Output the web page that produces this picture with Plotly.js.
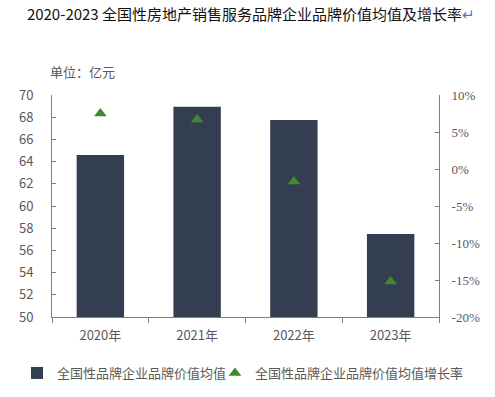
<!DOCTYPE html>
<html>
<head>
<meta charset="utf-8">
<script src="https://cdn.plot.ly/plotly-3.0.1.min.js"></script>
<style>html,body{margin:0;padding:0;background:#fff;}#chart{width:495px;height:397px;}</style>
</head>
<body>
<div id="chart"></div>
<script>
const years = ["2020年", "2021年", "2022年", "2023年"];
const brandValue = [64.6, 68.95, 67.75, 57.48];
const growthRate = [7.5, 6.7, -1.7, -15.2];
const leftTicks = [50, 52, 54, 56, 58, 60, 62, 64, 66, 68, 70];
const rightTicks = [-20, -15, -10, -5, 0, 5, 10];
const rightTickText = ["-20%", "-15%", "-10%", "-5%", "0%", "5%", "10%"];

const cjk = 'Noto Sans CJK SC';
const axisColor = '#7f7f7f';
const labelColor = '#595959';

const traces = [
  {
    type: 'bar', x: years, y: brandValue, name: '全国性品牌企业品牌价值均值',
    marker: {color: '#333f50'}, width: 0.49, yaxis: 'y', legend: 'legend'
  },
  {
    type: 'scatter', mode: 'markers', x: years, y: growthRate,
    name: '全国性品牌企业品牌价值均值增长率',
    marker: {symbol: 'triangle-up', size: 11, color: '#3e8a2e'}, yaxis: 'y2', legend: 'legend2'
  }
];

const legendBase = {
  orientation: 'h', xref: 'container', xanchor: 'left',
  yref: 'container', y: 1 - 373 / 397, yanchor: 'middle',
  font: {family: cjk, size: 13, color: labelColor}, itemwidth: 30,
  bgcolor: 'rgba(0,0,0,0)'
};

const layout = {
  width: 495, height: 397,
  margin: {l: 52, r: 56, t: 95, b: 80},
  paper_bgcolor: '#fff', plot_bgcolor: '#fff',
  font: {family: cjk, size: 13, color: labelColor},
  title: {
    text: '2020-2023 全国性房地产销售服务品牌企业品牌价值均值及增长率<span style="color:#4a7ebb">↵</span>',
    font: {family: cjk, size: 15, color: '#111'},
    x: 0.507, xanchor: 'center', y: 0.962, yanchor: 'middle', yref: 'container'
  },
  xaxis: {
    type: 'category', showline: true, linecolor: axisColor, linewidth: 1,
    ticks: 'outside', tickson: 'boundaries', ticklen: 5, tickcolor: axisColor,
    tickfont: {family: cjk, size: 13, color: labelColor}, showgrid: false, zeroline: false,
    ticklabelstandoff: 6
  },
  yaxis: {
    range: [50, 70], tickmode: 'array', tickvals: leftTicks, showline: true, linecolor: axisColor,
    ticks: 'inside', ticklen: 4, tickcolor: axisColor, showgrid: false, zeroline: false,
    tickfont: {family: cjk, size: 13, color: labelColor}, ticklabelstandoff: 15
  },
  yaxis2: {
    range: [-20, 10], tickmode: 'array', tickvals: rightTicks, ticktext: rightTickText,
    overlaying: 'y', side: 'right', anchor: 'x',
    showline: true, linecolor: axisColor, ticks: 'inside', ticklen: 4, tickcolor: axisColor,
    showgrid: false, zeroline: false,
    tickfont: {family: 'Liberation Serif', size: 13, color: labelColor},
    ticklabelstandoff: 9
  },
  showlegend: true,
  legend: Object.assign({}, legendBase, {x: 17 / 495}),
  legend2: Object.assign({}, legendBase, {x: 215 / 495}),
  annotations: [{
    text: '单位：亿元', xref: 'paper', yref: 'paper', x: -0.01, y: 1.104,
    xanchor: 'left', yanchor: 'middle', showarrow: false,
    font: {family: cjk, size: 13, color: labelColor}
  }]
};

Plotly.newPlot('chart', traces, layout, {displayModeBar: false, staticPlot: true});
</script>
</body>
</html>
